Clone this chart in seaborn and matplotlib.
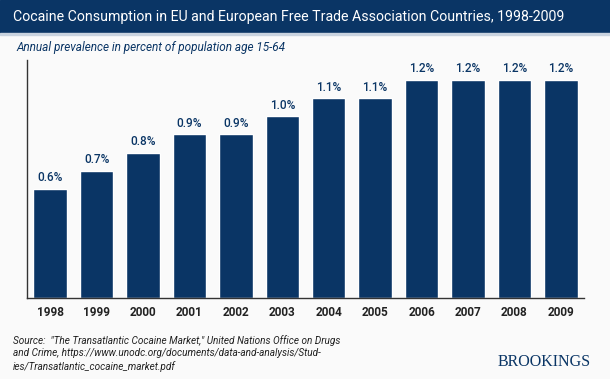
import matplotlib.pyplot as plt
import seaborn as sns
import pandas as pd
import numpy as np

sns.set_style("white")
plt.rcParams["font.family"] = ["Roboto", "DejaVu Sans"]

# ======================
# DATA
# ======================
years = ["1998", "1999", "2000", "2001", "2002", "2003",
         "2004", "2005", "2006", "2007", "2008", "2009"]
prevalence = [0.6, 0.7, 0.8, 0.9, 0.9, 1.0, 1.1, 1.1, 1.2, 1.2, 1.2, 1.2]

df = pd.DataFrame({"Year": years, "Prevalence": prevalence})

NAVY = "#0a3565"
BG = "#fafafa"

# ======================
# PLOTTING
# ======================
fig = plt.figure(figsize=(6.10, 3.79), dpi=100, facecolor=BG)

# title bar
fig.patches.append(plt.Rectangle((0, 1 - 33 / 379), 1, 33 / 379,
                                 transform=fig.transFigure, color=NAVY, zorder=0))
fig.patches.append(plt.Rectangle((0, 1 - 35 / 379), 1, 2 / 379,
                                 transform=fig.transFigure, color="#c9d3df", zorder=0))
fig.text(13 / 610, 1 - 17 / 379, "Cocaine Consumption in EU and European Free Trade Association Countries, 1998-2009",
         color="white", fontsize=10.2, va="center", ha="left")
fig.text(16 / 610, 1 - 48 / 379, "Annual prevalence in percent of population age 15-64",
         color=NAVY, fontsize=8.5, style="italic", va="center", ha="left")

ax = fig.add_axes([27 / 610, 1 - 298 / 379, 557 / 610, 238 / 379])
ax.set_facecolor(BG)

sns.barplot(data=df, x="Year", y="Prevalence", color=NAVY, width=0.72,
            saturation=1, ax=ax)

for i, v in enumerate(prevalence):
    ax.text(i, v + 0.025, f"{v:.1f}%", ha="center", va="bottom",
            color=NAVY, fontsize=8.5, fontweight="medium")

ax.set_xlim(-0.5, 11.5)
ax.set_ylim(0, 1.31)
ax.set_xlabel("")
ax.set_ylabel("")
ax.set_yticks([])
ax.set_xticks(np.arange(len(years)))
ax.set_xticklabels(years, fontsize=8.5, fontweight="bold", color="#222222")
ax.tick_params(axis="x", which="major", length=0, pad=6)
ax.set_xticks(np.arange(len(years) - 1) + 0.5, minor=True)
ax.tick_params(axis="x", which="minor", length=5, width=1, color="#333333", direction="in")
for s in ["top", "right"]:
    ax.spines[s].set_visible(False)
for s in ["left", "bottom"]:
    ax.spines[s].set_color("#333333")
    ax.spines[s].set_linewidth(1)

fig.text(13 / 610, 1 - 335 / 379,
         "Source:  \"The Transatlantic Cocaine Market,\" United Nations Office on Drugs\n"
         "and Crime, https://www.unodc.org/documents/data-and-analysis/Stud-\n"
         "ies/Transatlantic_cocaine_market.pdf",
         color="#222222", fontsize=7.2, style="italic", va="top", ha="left", linespacing=1.3)
fig.text(591 / 610, 1 - 362 / 379, "BROOKINGS", family="Liberation Serif",
         color=NAVY, fontsize=11.5, va="center", ha="right")

# ======================
# SAVE
# ======================
plt.savefig("out.png", dpi=100, facecolor=BG)
plt.close()
